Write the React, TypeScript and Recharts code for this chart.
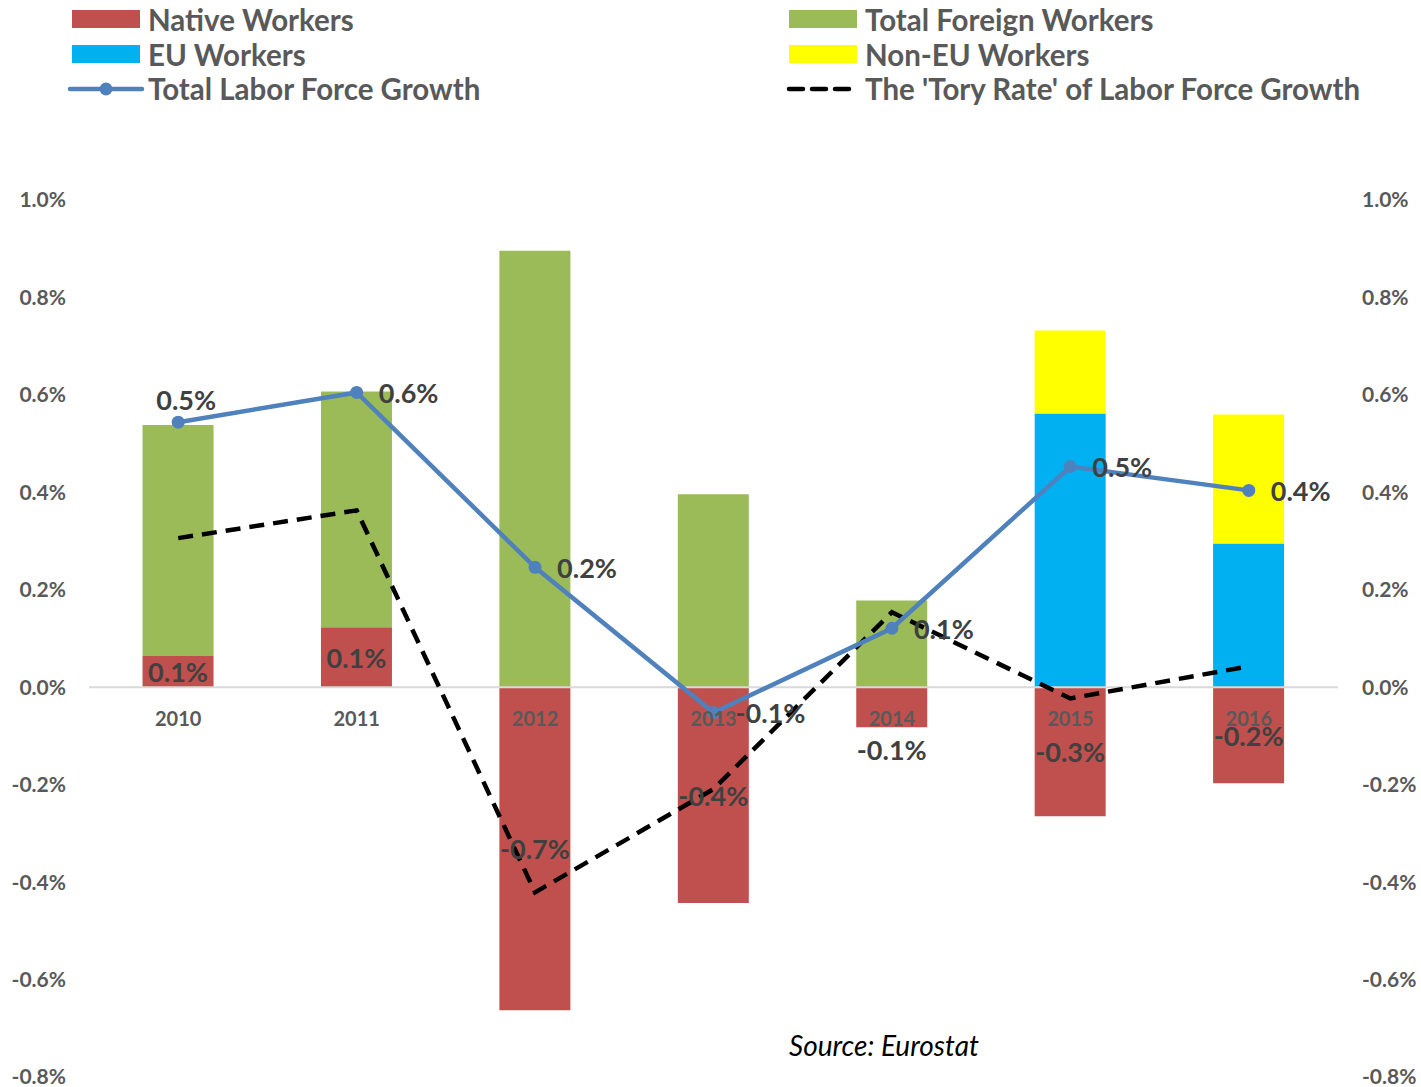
import React from 'react';
import {
  ComposedChart, Bar, Line, XAxis, YAxis, ReferenceLine, LabelList,
} from 'recharts';

const years = ['2010', '2011', '2012', '2013', '2014', '2015', '2016'];
const nativeWorkers = [0.064, 0.123, -0.663, -0.443, -0.082, -0.265, -0.197];
const foreignWorkers = [0.474, 0.484, 0.896, 0.396, 0.178, null, null];
const euWorkers = [null, null, null, null, null, 0.562, 0.295];
const nonEuWorkers = [null, null, null, null, null, 0.17, 0.265];
const totalGrowth = [0.544, 0.605, 0.246, -0.052, 0.121, 0.453, 0.404];
const toryRate = [0.306, 0.363, -0.421, -0.209, 0.154, -0.023, 0.043];
const yTicks = [-0.8, -0.6, -0.4, -0.2, 0, 0.2, 0.4, 0.6, 0.8, 1.0];

const nativeLabelBelow = ['2014'];
const totalLabelAbove = ['2010'];

const data = years.map((year, i) => ({
  year,
  native: nativeWorkers[i],
  foreign: foreignWorkers[i],
  eu: euWorkers[i],
  nonEu: nonEuWorkers[i],
  total: totalGrowth[i],
  tory: toryRate[i],
}));

const FONT = 'Lato, "Open Sans", sans-serif';
const C_NATIVE = '#C0504D';
const C_FOREIGN = '#9BBB59';
const C_EU = '#00B0F0';
const C_NONEU = '#FFFF00';
const C_LINE = '#4F81BD';
const LABEL_COLOR = '#404040';
const TICK_COLOR = '#595959';

const fmt = (v: number) => `${v.toFixed(1)}%`;

const NativeLabel = (props: any) => {
  const { value, index } = props;
  if (value == null) return null;
  const vb = props.viewBox || {};
  const x = props.x ?? vb.x;
  const y = props.y ?? vb.y;
  const width = props.width ?? vb.width;
  const height = props.height ?? vb.height;
  const cx = Number(x) + Number(width) / 2;
  const top = Math.min(Number(y), Number(y) + Number(height));
  const bottom = Math.max(Number(y), Number(y) + Number(height));
  let cy = (top + bottom) / 2;
  if (nativeLabelBelow.includes(years[index])) cy = bottom + 22;
  return (
    <text x={cx} y={cy} textAnchor="middle" dominantBaseline="central"
      fill={LABEL_COLOR} fontFamily={FONT} fontWeight={700} fontSize={27}>
      {fmt(Number(value))}
    </text>
  );
};

const TotalLabel = (props: any) => {
  const { x, y, value, index } = props;
  if (value == null) return null;
  if (totalLabelAbove.includes(years[index])) {
    return (
      <text x={Number(x) + 8} y={Number(y) - 23} textAnchor="middle" dominantBaseline="central"
        fill={LABEL_COLOR} fontFamily={FONT} fontWeight={700} fontSize={27}>
        {fmt(Number(value))}
      </text>
    );
  }
  return (
    <text x={Number(x) + 22} y={Number(y)} textAnchor="start" dominantBaseline="central"
      fill={LABEL_COLOR} fontFamily={FONT} fontWeight={700} fontSize={27}>
      {fmt(Number(value))}
    </text>
  );
};

const YearLabel = (props: any) => {
  const { x, y, value } = props;
  return (
    <text x={Number(x)} y={Number(y) + 31} textAnchor="middle" dominantBaseline="central"
      fill={TICK_COLOR} fontFamily={FONT} fontWeight={700} fontSize={20}>
      {value}
    </text>
  );
};

const legendItems = [
  { name: 'Native Workers', kind: 'rect', color: C_NATIVE, col: 0, row: 0 },
  { name: 'Total Foreign Workers', kind: 'rect', color: C_FOREIGN, col: 1, row: 0 },
  { name: 'EU Workers', kind: 'rect', color: C_EU, col: 0, row: 1 },
  { name: 'Non-EU Workers', kind: 'rect', color: C_NONEU, col: 1, row: 1 },
  { name: 'Total Labor Force Growth', kind: 'line', color: C_LINE, col: 0, row: 2 },
  { name: "The 'Tory Rate' of Labor Force Growth", kind: 'dash', color: '#000000', col: 1, row: 2 },
];

const LegendBlock = () => {
  const colX = [70, 787];
  const rowY = [19, 54, 88];
  return (
    <svg width={1421} height={110} style={{ position: 'absolute', left: 0, top: 0 }}>
      {legendItems.map((it) => {
        const x0 = colX[it.col];
        const cy = rowY[it.row];
        let icon;
        if (it.kind === 'rect') {
          icon = <rect x={x0 + 2} y={cy - 9} width={68} height={18} fill={it.color} />;
        } else if (it.kind === 'line') {
          icon = (
            <g>
              <line x1={x0} y1={cy + 1} x2={x0 + 72} y2={cy + 1} stroke={it.color} strokeWidth={4.5} strokeLinecap="round" />
              <circle cx={x0 + 36} cy={cy + 1} r={6.5} fill={it.color} />
            </g>
          );
        } else {
          icon = (
            <line x1={x0 + 2} y1={cy + 1} x2={x0 + 70} y2={cy + 1} stroke={it.color} strokeWidth={4.5}
              strokeDasharray="14 9" strokeLinecap="round" />
          );
        }
        return (
          <g key={it.name}>
            {icon}
            <text x={x0 + 78} y={cy} dominantBaseline="central" fill={TICK_COLOR}
              fontFamily={FONT} fontWeight={700} fontSize={29.5}>
              {it.name}
            </text>
          </g>
        );
      })}
    </svg>
  );
};

export default function App() {
  return (
    <div style={{ position: 'absolute', left: 0, top: 0, width: 1421, height: 1087, background: '#fff' }}>
      <ComposedChart
        width={1421}
        height={1087}
        data={data}
        stackOffset="sign"
        barCategoryGap="30%"
        margin={{ top: 200, right: 0, bottom: 10, left: 0 }}
      >
        <XAxis dataKey="year" hide />
        <YAxis yAxisId="left" orientation="left" width={89} domain={[-0.8, 1.0]} ticks={yTicks}
          axisLine={false} tickLine={false} tickSize={0} tickMargin={23} tickFormatter={fmt}
          allowDataOverflow interval={0}
          tick={{ fill: TICK_COLOR, fontFamily: FONT, fontWeight: 700, fontSize: 21 }} />
        <YAxis yAxisId="right" orientation="right" width={83} domain={[-0.8, 1.0]} ticks={yTicks}
          axisLine={false} tickLine={false} tickSize={0} tickMargin={24} tickFormatter={fmt}
          allowDataOverflow interval={0}
          tick={{ fill: TICK_COLOR, fontFamily: FONT, fontWeight: 700, fontSize: 21 }} />
        <ReferenceLine yAxisId="left" y={0} stroke="#D9D9D9" strokeWidth={2} />
        <Bar yAxisId="left" dataKey="native" stackId="a" fill={C_NATIVE} isAnimationActive={false}>
          <LabelList dataKey="native" content={NativeLabel} />
        </Bar>
        <Bar yAxisId="left" dataKey="foreign" stackId="a" fill={C_FOREIGN} isAnimationActive={false} />
        <Bar yAxisId="left" dataKey="eu" stackId="a" fill={C_EU} isAnimationActive={false} />
        <Bar yAxisId="left" dataKey="nonEu" stackId="a" fill={C_NONEU} isAnimationActive={false} />
        <Line yAxisId="left" dataKey={() => 0} stroke="none" dot={false} activeDot={false}
          isAnimationActive={false} legendType="none">
          <LabelList dataKey="year" content={YearLabel} />
        </Line>
        <Line yAxisId="left" dataKey="tory" stroke="#000000" strokeWidth={4.5} strokeDasharray="15 9"
          dot={false} activeDot={false} isAnimationActive={false} />
        <Line yAxisId="left" dataKey="total" stroke={C_LINE} strokeWidth={4.5}
          dot={{ r: 6.5, fill: C_LINE, stroke: C_LINE, strokeWidth: 0 }} activeDot={false}
          isAnimationActive={false}>
          <LabelList dataKey="total" content={TotalLabel} />
        </Line>
      </ComposedChart>
      <LegendBlock />
      <div style={{ position: 'absolute', left: 789, top: 1028, fontFamily: FONT, fontStyle: 'italic',
        fontSize: 28, color: '#000', lineHeight: '34px' }}>
        Source: Eurostat
      </div>
    </div>
  );
}
